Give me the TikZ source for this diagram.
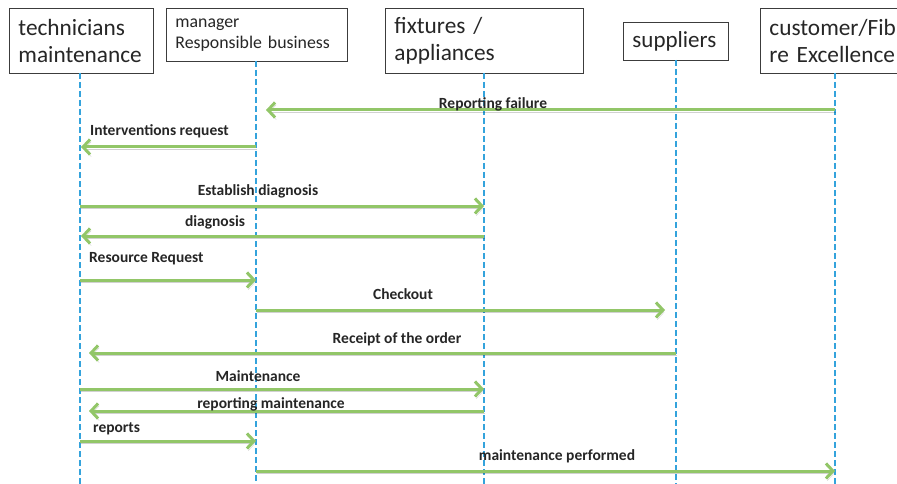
\documentclass[tikz,border=0pt]{standalone}
\usepackage{fontspec}
\setmainfont{Carlito}
\usetikzlibrary{arrows.meta}
\definecolor{msggreen}{RGB}{146,198,104}
\definecolor{lifeblue}{RGB}{52,163,220}
\definecolor{boxline}{RGB}{60,60,60}
\definecolor{labtext}{RGB}{38,38,38}
\tikzset{
  hbox/.style={draw=boxline, line width=0.9pt, anchor=north west, align=left, inner xsep=9pt, inner ysep=0pt, text=black!85},
  life/.style={draw=lifeblue, line width=1.1pt, dash pattern=on 6pt off 3pt},
  msg/.style={draw=msggreen, line width=3pt, -{Straight Barb[length=7pt,width=15pt]},
    preaction={draw=black, opacity=0.18, transform canvas={shift={(1.2pt,-2.2pt)}}}},
  lab/.style={font=\fontsize{15.5}{18}\selectfont\bfseries, text=labtext, inner sep=0pt}
}
\begin{document}
\begin{tikzpicture}[x=1pt,y=-1pt]
\useasboundingbox (0,0) rectangle (897,484);
\fill[white] (0,0) rectangle (897,484);
\begin{scope}
\clip (0,0) rectangle (897,484);
% header boxes
\node[hbox, minimum width=144, minimum height=65, text width=126, font=\fontsize{23.3}{27.5}\selectfont] (tech) at (9,8) {technicians\\maintenance};
\node[hbox, minimum width=181, minimum height=53, text width=163, font=\fontsize{17.8}{21.5}\selectfont] (mgr) at (166,8) {manager\\Responsible business};
\node[hbox, minimum width=198, minimum height=65, text width=180, font=\fontsize{23.3}{27.5}\selectfont] (fix) at (385,8) {fixtures /\\appliances};
\node[hbox, minimum width=105, minimum height=38, text width=87, font=\fontsize{23}{27}\selectfont] (sup) at (623,22) {suppliers};
\node[hbox, minimum width=170, minimum height=65, text width=152, font=\fontsize{23.3}{27.5}\selectfont] (cus) at (760,8) {customer/Fib\\re Excellence};
% lifeline anchors
\coordinate (Lt) at (80,73);
\coordinate (Lm) at (256,61);
\coordinate (Lf) at (484,73);
\coordinate (Ls) at (676,60);
\coordinate (Lc) at (835,73);
\coordinate (Bot) at (0,486);
\draw[life] (Lt) -- (Lt |- Bot);
\draw[life] (Lm) -- (Lm |- Bot);
\draw[life] (Lf) -- (Lf |- Bot);
\draw[life] (Ls) -- (Ls |- Bot);
\draw[life] (Lc) -- (Lc |- Bot);
% messages
\draw[msg, shorten >=10pt] (Lc |- 0,110) -- (Lm |- 0,110);
\node[lab] (l1) at (493,104) {Reporting failure};
\draw[msg, shorten >=1pt] (Lm |- 0,147) -- (Lt |- 0,147);
\node[lab, anchor=west] (l2) at (90,131) {Interventions request};
\draw[msg] (Lt |- 0,206) -- (Lf |- 0,206);
\node[lab] (l3) at (258,191) {Establish diagnosis};
\draw[msg, shorten >=1pt] (Lf |- 0,236) -- (Lt |- 0,236);
\node[lab] (l4) at (215,222) {diagnosis};
\draw[msg] (Lt |- 0,280) -- (Lm |- 0,280);
\node[lab, anchor=west] (l5) at (89,259) {Resource Request};
\draw[msg, shorten >=11pt] (Lm |- 0,310) -- (Ls |- 0,310);
\node[lab] (l6) at (403,294) {Checkout};
\draw[msg, shorten >=9pt] (Ls |- 0,353) -- (Lt |- 0,353);
\node[lab] (l7) at (397,339) {Receipt of the order};
\draw[msg] (Lt |- 0,389) -- (Lf |- 0,389);
\node[lab] (l8) at (258,376) {Maintenance};
\draw[msg, shorten >=9pt] (Lf |- 0,411) -- (Lt |- 0,411);
\node[lab] (l9) at (271,404) {reporting maintenance};
\draw[msg] (Lt |- 0,441) -- (Lm |- 0,441);
\node[lab, anchor=west] (l10) at (93,429) {reports};
\draw[msg] (Lm |- 0,471) -- (Lc |- 0,471);
\node[lab] (l11) at (557,456) {maintenance performed};
\end{scope}
\end{tikzpicture}
\end{document}
